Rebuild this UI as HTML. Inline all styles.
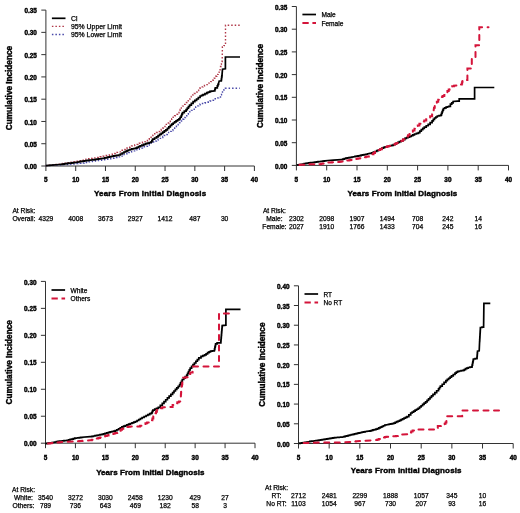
<!DOCTYPE html>
<html><head><meta charset="utf-8"><style>
html,body{margin:0;padding:0;background:#fff;width:520px;height:513px;overflow:hidden}
svg{display:block;will-change:transform}
</style></head><body>
<svg width="520" height="513" viewBox="0 0 520 513" font-family='"Liberation Sans", sans-serif' fill="#000">
<style>text{stroke:#000;stroke-width:0.25px;paint-order:stroke} text[font-weight=bold]{stroke-width:0.4px}</style>
<rect width="520" height="513" fill="#fff"/>
<line x1="45.9" y1="166.0" x2="45.9" y2="10.1" stroke="#333" stroke-width="1"/>
<line x1="41.3" y1="166.00" x2="45.9" y2="166.00" stroke="#333" stroke-width="1"/>
<text x="36.90" y="169.10" text-anchor="end" font-weight="bold" font-size="6.4">0.00</text>
<line x1="41.3" y1="143.73" x2="45.9" y2="143.73" stroke="#333" stroke-width="1"/>
<text x="36.90" y="146.83" text-anchor="end" font-weight="bold" font-size="6.4">0.05</text>
<line x1="41.3" y1="121.46" x2="45.9" y2="121.46" stroke="#333" stroke-width="1"/>
<text x="36.90" y="124.56" text-anchor="end" font-weight="bold" font-size="6.4">0.10</text>
<line x1="41.3" y1="99.19" x2="45.9" y2="99.19" stroke="#333" stroke-width="1"/>
<text x="36.90" y="102.29" text-anchor="end" font-weight="bold" font-size="6.4">0.15</text>
<line x1="41.3" y1="76.91" x2="45.9" y2="76.91" stroke="#333" stroke-width="1"/>
<text x="36.90" y="80.01" text-anchor="end" font-weight="bold" font-size="6.4">0.20</text>
<line x1="41.3" y1="54.64" x2="45.9" y2="54.64" stroke="#333" stroke-width="1"/>
<text x="36.90" y="57.74" text-anchor="end" font-weight="bold" font-size="6.4">0.25</text>
<line x1="41.3" y1="32.37" x2="45.9" y2="32.37" stroke="#333" stroke-width="1"/>
<text x="36.90" y="35.47" text-anchor="end" font-weight="bold" font-size="6.4">0.30</text>
<line x1="41.3" y1="10.10" x2="45.9" y2="10.10" stroke="#333" stroke-width="1"/>
<text x="36.90" y="13.20" text-anchor="end" font-weight="bold" font-size="6.4">0.35</text>
<line x1="45.9" y1="166.0" x2="254.4" y2="166.0" stroke="#333" stroke-width="1"/>
<line x1="45.90" y1="166.0" x2="45.90" y2="171.0" stroke="#333" stroke-width="1"/>
<text x="45.90" y="182.10" text-anchor="middle" font-weight="bold" font-size="6.4">5</text>
<line x1="75.69" y1="166.0" x2="75.69" y2="171.0" stroke="#333" stroke-width="1"/>
<text x="75.69" y="182.10" text-anchor="middle" font-weight="bold" font-size="6.4">10</text>
<line x1="105.47" y1="166.0" x2="105.47" y2="171.0" stroke="#333" stroke-width="1"/>
<text x="105.47" y="182.10" text-anchor="middle" font-weight="bold" font-size="6.4">15</text>
<line x1="135.26" y1="166.0" x2="135.26" y2="171.0" stroke="#333" stroke-width="1"/>
<text x="135.26" y="182.10" text-anchor="middle" font-weight="bold" font-size="6.4">20</text>
<line x1="165.04" y1="166.0" x2="165.04" y2="171.0" stroke="#333" stroke-width="1"/>
<text x="165.04" y="182.10" text-anchor="middle" font-weight="bold" font-size="6.4">25</text>
<line x1="194.83" y1="166.0" x2="194.83" y2="171.0" stroke="#333" stroke-width="1"/>
<text x="194.83" y="182.10" text-anchor="middle" font-weight="bold" font-size="6.4">30</text>
<line x1="224.61" y1="166.0" x2="224.61" y2="171.0" stroke="#333" stroke-width="1"/>
<text x="224.61" y="182.10" text-anchor="middle" font-weight="bold" font-size="6.4">35</text>
<line x1="254.40" y1="166.0" x2="254.40" y2="171.0" stroke="#333" stroke-width="1"/>
<text x="254.40" y="182.10" text-anchor="middle" font-weight="bold" font-size="6.4">40</text>
<text x="150.19" y="196.00" text-anchor="middle" font-weight="bold" font-size="8.0" letter-spacing="0.19">Years From Initial Diagnosis</text>
<text transform="translate(12.30,88.05) rotate(-90)" text-anchor="middle" font-weight="bold" font-size="8.2">Cumulative Incidence</text>
<line x1="296.4" y1="165.4" x2="296.4" y2="6.5" stroke="#333" stroke-width="1"/>
<line x1="291.79999999999995" y1="165.40" x2="296.4" y2="165.40" stroke="#333" stroke-width="1"/>
<text x="287.40" y="168.50" text-anchor="end" font-weight="bold" font-size="6.4">0.00</text>
<line x1="291.79999999999995" y1="142.70" x2="296.4" y2="142.70" stroke="#333" stroke-width="1"/>
<text x="287.40" y="145.80" text-anchor="end" font-weight="bold" font-size="6.4">0.05</text>
<line x1="291.79999999999995" y1="120.00" x2="296.4" y2="120.00" stroke="#333" stroke-width="1"/>
<text x="287.40" y="123.10" text-anchor="end" font-weight="bold" font-size="6.4">0.10</text>
<line x1="291.79999999999995" y1="97.30" x2="296.4" y2="97.30" stroke="#333" stroke-width="1"/>
<text x="287.40" y="100.40" text-anchor="end" font-weight="bold" font-size="6.4">0.15</text>
<line x1="291.79999999999995" y1="74.60" x2="296.4" y2="74.60" stroke="#333" stroke-width="1"/>
<text x="287.40" y="77.70" text-anchor="end" font-weight="bold" font-size="6.4">0.20</text>
<line x1="291.79999999999995" y1="51.90" x2="296.4" y2="51.90" stroke="#333" stroke-width="1"/>
<text x="287.40" y="55.00" text-anchor="end" font-weight="bold" font-size="6.4">0.25</text>
<line x1="291.79999999999995" y1="29.20" x2="296.4" y2="29.20" stroke="#333" stroke-width="1"/>
<text x="287.40" y="32.30" text-anchor="end" font-weight="bold" font-size="6.4">0.30</text>
<line x1="291.79999999999995" y1="6.50" x2="296.4" y2="6.50" stroke="#333" stroke-width="1"/>
<text x="287.40" y="9.60" text-anchor="end" font-weight="bold" font-size="6.4">0.35</text>
<line x1="296.4" y1="165.4" x2="508.5" y2="165.4" stroke="#333" stroke-width="1"/>
<line x1="296.40" y1="165.4" x2="296.40" y2="170.4" stroke="#333" stroke-width="1"/>
<text x="296.40" y="181.50" text-anchor="middle" font-weight="bold" font-size="6.4">5</text>
<line x1="326.70" y1="165.4" x2="326.70" y2="170.4" stroke="#333" stroke-width="1"/>
<text x="326.70" y="181.50" text-anchor="middle" font-weight="bold" font-size="6.4">10</text>
<line x1="357.00" y1="165.4" x2="357.00" y2="170.4" stroke="#333" stroke-width="1"/>
<text x="357.00" y="181.50" text-anchor="middle" font-weight="bold" font-size="6.4">15</text>
<line x1="387.30" y1="165.4" x2="387.30" y2="170.4" stroke="#333" stroke-width="1"/>
<text x="387.30" y="181.50" text-anchor="middle" font-weight="bold" font-size="6.4">20</text>
<line x1="417.60" y1="165.4" x2="417.60" y2="170.4" stroke="#333" stroke-width="1"/>
<text x="417.60" y="181.50" text-anchor="middle" font-weight="bold" font-size="6.4">25</text>
<line x1="447.90" y1="165.4" x2="447.90" y2="170.4" stroke="#333" stroke-width="1"/>
<text x="447.90" y="181.50" text-anchor="middle" font-weight="bold" font-size="6.4">30</text>
<line x1="478.20" y1="165.4" x2="478.20" y2="170.4" stroke="#333" stroke-width="1"/>
<text x="478.20" y="181.50" text-anchor="middle" font-weight="bold" font-size="6.4">35</text>
<line x1="508.50" y1="165.4" x2="508.50" y2="170.4" stroke="#333" stroke-width="1"/>
<text x="508.50" y="181.50" text-anchor="middle" font-weight="bold" font-size="6.4">40</text>
<text x="402.50" y="195.80" text-anchor="middle" font-weight="bold" font-size="8.0" letter-spacing="0.096">Years From Initial Diagnosis</text>
<text transform="translate(262.80,85.95) rotate(-90)" text-anchor="middle" font-weight="bold" font-size="8.2">Cumulative Incidence</text>
<line x1="45.5" y1="443.2" x2="45.5" y2="281.4" stroke="#333" stroke-width="1"/>
<line x1="40.9" y1="443.20" x2="45.5" y2="443.20" stroke="#333" stroke-width="1"/>
<text x="36.50" y="446.30" text-anchor="end" font-weight="bold" font-size="6.4">0.00</text>
<line x1="40.9" y1="416.23" x2="45.5" y2="416.23" stroke="#333" stroke-width="1"/>
<text x="36.50" y="419.33" text-anchor="end" font-weight="bold" font-size="6.4">0.05</text>
<line x1="40.9" y1="389.27" x2="45.5" y2="389.27" stroke="#333" stroke-width="1"/>
<text x="36.50" y="392.37" text-anchor="end" font-weight="bold" font-size="6.4">0.10</text>
<line x1="40.9" y1="362.30" x2="45.5" y2="362.30" stroke="#333" stroke-width="1"/>
<text x="36.50" y="365.40" text-anchor="end" font-weight="bold" font-size="6.4">0.15</text>
<line x1="40.9" y1="335.33" x2="45.5" y2="335.33" stroke="#333" stroke-width="1"/>
<text x="36.50" y="338.43" text-anchor="end" font-weight="bold" font-size="6.4">0.20</text>
<line x1="40.9" y1="308.37" x2="45.5" y2="308.37" stroke="#333" stroke-width="1"/>
<text x="36.50" y="311.47" text-anchor="end" font-weight="bold" font-size="6.4">0.25</text>
<line x1="40.9" y1="281.40" x2="45.5" y2="281.40" stroke="#333" stroke-width="1"/>
<text x="36.50" y="284.50" text-anchor="end" font-weight="bold" font-size="6.4">0.30</text>
<line x1="45.5" y1="443.2" x2="255.0" y2="443.2" stroke="#333" stroke-width="1"/>
<line x1="45.50" y1="443.2" x2="45.50" y2="448.2" stroke="#333" stroke-width="1"/>
<text x="45.50" y="460.10" text-anchor="middle" font-weight="bold" font-size="6.4">5</text>
<line x1="75.43" y1="443.2" x2="75.43" y2="448.2" stroke="#333" stroke-width="1"/>
<text x="75.43" y="460.10" text-anchor="middle" font-weight="bold" font-size="6.4">10</text>
<line x1="105.36" y1="443.2" x2="105.36" y2="448.2" stroke="#333" stroke-width="1"/>
<text x="105.36" y="460.10" text-anchor="middle" font-weight="bold" font-size="6.4">15</text>
<line x1="135.29" y1="443.2" x2="135.29" y2="448.2" stroke="#333" stroke-width="1"/>
<text x="135.29" y="460.10" text-anchor="middle" font-weight="bold" font-size="6.4">20</text>
<line x1="165.21" y1="443.2" x2="165.21" y2="448.2" stroke="#333" stroke-width="1"/>
<text x="165.21" y="460.10" text-anchor="middle" font-weight="bold" font-size="6.4">25</text>
<line x1="195.14" y1="443.2" x2="195.14" y2="448.2" stroke="#333" stroke-width="1"/>
<text x="195.14" y="460.10" text-anchor="middle" font-weight="bold" font-size="6.4">30</text>
<line x1="225.07" y1="443.2" x2="225.07" y2="448.2" stroke="#333" stroke-width="1"/>
<text x="225.07" y="460.10" text-anchor="middle" font-weight="bold" font-size="6.4">35</text>
<line x1="255.00" y1="443.2" x2="255.00" y2="448.2" stroke="#333" stroke-width="1"/>
<text x="255.00" y="460.10" text-anchor="middle" font-weight="bold" font-size="6.4">40</text>
<text x="150.32" y="474.60" text-anchor="middle" font-weight="bold" font-size="8.0" letter-spacing="0.04">Years From Initial Diagnosis</text>
<text transform="translate(11.90,362.30) rotate(-90)" text-anchor="middle" font-weight="bold" font-size="8.2">Cumulative Incidence</text>
<line x1="298.5" y1="443.5" x2="298.5" y2="285.8" stroke="#333" stroke-width="1"/>
<line x1="293.9" y1="443.50" x2="298.5" y2="443.50" stroke="#333" stroke-width="1"/>
<text x="289.50" y="446.60" text-anchor="end" font-weight="bold" font-size="6.4">0.00</text>
<line x1="293.9" y1="423.79" x2="298.5" y2="423.79" stroke="#333" stroke-width="1"/>
<text x="289.50" y="426.89" text-anchor="end" font-weight="bold" font-size="6.4">0.05</text>
<line x1="293.9" y1="404.07" x2="298.5" y2="404.07" stroke="#333" stroke-width="1"/>
<text x="289.50" y="407.18" text-anchor="end" font-weight="bold" font-size="6.4">0.10</text>
<line x1="293.9" y1="384.36" x2="298.5" y2="384.36" stroke="#333" stroke-width="1"/>
<text x="289.50" y="387.46" text-anchor="end" font-weight="bold" font-size="6.4">0.15</text>
<line x1="293.9" y1="364.65" x2="298.5" y2="364.65" stroke="#333" stroke-width="1"/>
<text x="289.50" y="367.75" text-anchor="end" font-weight="bold" font-size="6.4">0.20</text>
<line x1="293.9" y1="344.94" x2="298.5" y2="344.94" stroke="#333" stroke-width="1"/>
<text x="289.50" y="348.04" text-anchor="end" font-weight="bold" font-size="6.4">0.25</text>
<line x1="293.9" y1="325.23" x2="298.5" y2="325.23" stroke="#333" stroke-width="1"/>
<text x="289.50" y="328.33" text-anchor="end" font-weight="bold" font-size="6.4">0.30</text>
<line x1="293.9" y1="305.51" x2="298.5" y2="305.51" stroke="#333" stroke-width="1"/>
<text x="289.50" y="308.61" text-anchor="end" font-weight="bold" font-size="6.4">0.35</text>
<line x1="293.9" y1="285.80" x2="298.5" y2="285.80" stroke="#333" stroke-width="1"/>
<text x="289.50" y="288.90" text-anchor="end" font-weight="bold" font-size="6.4">0.40</text>
<line x1="298.5" y1="443.5" x2="513.2" y2="443.5" stroke="#333" stroke-width="1"/>
<line x1="298.50" y1="443.5" x2="298.50" y2="448.5" stroke="#333" stroke-width="1"/>
<text x="298.50" y="459.60" text-anchor="middle" font-weight="bold" font-size="6.4">5</text>
<line x1="329.17" y1="443.5" x2="329.17" y2="448.5" stroke="#333" stroke-width="1"/>
<text x="329.17" y="459.60" text-anchor="middle" font-weight="bold" font-size="6.4">10</text>
<line x1="359.84" y1="443.5" x2="359.84" y2="448.5" stroke="#333" stroke-width="1"/>
<text x="359.84" y="459.60" text-anchor="middle" font-weight="bold" font-size="6.4">15</text>
<line x1="390.51" y1="443.5" x2="390.51" y2="448.5" stroke="#333" stroke-width="1"/>
<text x="390.51" y="459.60" text-anchor="middle" font-weight="bold" font-size="6.4">20</text>
<line x1="421.19" y1="443.5" x2="421.19" y2="448.5" stroke="#333" stroke-width="1"/>
<text x="421.19" y="459.60" text-anchor="middle" font-weight="bold" font-size="6.4">25</text>
<line x1="451.86" y1="443.5" x2="451.86" y2="448.5" stroke="#333" stroke-width="1"/>
<text x="451.86" y="459.60" text-anchor="middle" font-weight="bold" font-size="6.4">30</text>
<line x1="482.53" y1="443.5" x2="482.53" y2="448.5" stroke="#333" stroke-width="1"/>
<text x="482.53" y="459.60" text-anchor="middle" font-weight="bold" font-size="6.4">35</text>
<line x1="513.20" y1="443.5" x2="513.20" y2="448.5" stroke="#333" stroke-width="1"/>
<text x="513.20" y="459.60" text-anchor="middle" font-weight="bold" font-size="6.4">40</text>
<text x="406.17" y="473.00" text-anchor="middle" font-weight="bold" font-size="8.0" letter-spacing="0.14">Years From Initial Diagnosis</text>
<text transform="translate(264.90,364.65) rotate(-90)" text-anchor="middle" font-weight="bold" font-size="8.2">Cumulative Incidence</text>
<path d="M45.80,165.60 L47.50,165.60 L47.50,165.42 L49.20,165.42 L49.20,165.25 L50.90,165.25 L50.90,165.07 L52.60,165.07 L52.60,164.90 L54.30,164.90 L54.30,164.72 L56.00,164.72 L56.00,164.55 L57.70,164.55 L57.70,164.38 L59.40,164.38 L59.40,164.20 L60.94,164.20 L60.94,163.88 L62.48,163.88 L62.48,163.56 L64.02,163.56 L64.02,163.24 L65.56,163.24 L65.56,162.92 L67.10,162.92 L67.10,162.60 L68.64,162.60 L68.64,162.38 L70.18,162.38 L70.18,162.16 L71.72,162.16 L71.72,161.94 L73.26,161.94 L73.26,161.72 L74.80,161.72 L74.80,161.50 L76.34,161.50 L76.34,161.26 L77.88,161.26 L77.88,161.02 L79.42,161.02 L79.42,160.78 L80.96,160.78 L80.96,160.54 L82.50,160.54 L82.50,160.30 L84.23,160.30 L84.23,159.80 L85.97,159.80 L85.97,159.30 L87.70,159.30 L87.70,158.80 L89.24,158.80 L89.24,158.58 L90.78,158.58 L90.78,158.36 L92.32,158.36 L92.32,158.14 L93.86,158.14 L93.86,157.92 L95.40,157.92 L95.40,157.70 L96.94,157.70 L96.94,157.40 L98.48,157.40 L98.48,157.10 L100.02,157.10 L100.02,156.80 L101.56,156.80 L101.56,156.50 L103.10,156.50 L103.10,156.20 L104.64,156.20 L104.64,155.86 L106.18,155.86 L106.18,155.52 L107.72,155.52 L107.72,155.18 L109.26,155.18 L109.26,154.84 L110.80,154.84 L110.80,154.50 L112.34,154.50 L112.34,153.98 L113.88,153.98 L113.88,153.46 L115.42,153.46 L115.42,152.94 L116.96,152.94 L116.96,152.42 L118.50,152.42 L118.50,151.90 L120.33,151.90 L120.33,151.10 L122.17,151.10 L122.17,150.30 L124.00,150.30 L124.00,149.50 L125.50,149.50 L125.50,148.78 L127.00,148.78 L127.00,148.05 L128.50,148.05 L128.50,147.32 L130.00,147.32 L130.00,146.60 L131.56,146.60 L131.56,146.04 L133.12,146.04 L133.12,145.48 L134.68,145.48 L134.68,144.92 L136.24,144.92 L136.24,144.36 L137.80,144.36 L137.80,143.80 L139.36,143.80 L139.36,143.26 L140.92,143.26 L140.92,142.72 L142.48,142.72 L142.48,142.18 L144.04,142.18 L144.04,141.64 L145.60,141.64 L145.60,141.10 L147.43,141.10 L147.43,139.53 L149.27,139.53 L149.27,137.97 L151.10,137.97 L151.10,136.40 L152.90,136.40 L152.90,135.10 L154.70,135.10 L154.70,133.80 L156.50,133.80 L156.50,132.50 L158.07,132.50 L158.07,131.47 L159.63,131.47 L159.63,130.43 L161.20,130.43 L161.20,129.40 L163.10,129.40 L163.10,127.60 L165.00,127.60 L165.00,125.80 L166.32,125.80 L166.32,124.38 L167.65,124.38 L167.65,122.95 L168.98,122.95 L168.98,121.52 L170.30,121.52 L170.30,120.10 L171.73,120.10 L171.73,118.63 L173.17,118.63 L173.17,117.17 L174.60,117.17 L174.60,115.70 L176.07,115.70 L176.07,114.23 L177.53,114.23 L177.53,112.77 L179.00,112.77 L179.00,111.30 L180.17,111.30 L180.17,109.57 L181.33,109.57 L181.33,107.83 L182.50,107.83 L182.50,106.10 L183.97,106.10 L183.97,104.33 L185.43,104.33 L185.43,102.57 L186.90,102.57 L186.90,100.80 L188.37,100.80 L188.37,99.33 L189.83,99.33 L189.83,97.87 L191.30,97.87 L191.30,96.40 L192.77,96.40 L192.77,94.93 L194.23,94.93 L194.23,93.47 L195.70,93.47 L195.70,92.00 L197.17,92.00 L197.17,90.53 L198.63,90.53 L198.63,89.07 L200.10,89.07 L200.10,87.60 L201.55,87.60 L201.55,86.85 L203.00,86.85 L203.00,86.10 L204.45,86.10 L204.45,85.35 L205.90,85.35 L205.90,84.60 L207.35,84.60 L207.35,83.85 L208.80,83.85 L208.80,83.10 L210.75,83.10 L210.75,81.65 L212.70,81.65 L212.70,80.20 L214.20,80.20 L214.20,78.25 L215.70,78.25 L215.70,76.30 L216.90,76.30 L216.90,74.35 L218.10,74.35 L218.10,72.40 L219.10,72.40 L219.10,70.45 L220.10,70.45 L220.10,68.50 L220.55,68.50 L220.55,66.55 L221.00,66.55 L221.00,64.60 L221.40,64.60 L221.40,63.07 L221.80,63.07 L221.80,61.53 L222.20,61.53 L222.20,60.00 L222.40,47.00 L223.95,47.00 L223.95,45.60 L225.50,45.60 L225.50,44.20 L225.50,25.30 L239.80,25.30" stroke="#b03848" stroke-width="1.4" fill="none" stroke-dasharray="1.5,2.0"/>
<path d="M45.80,165.60 L59.40,165.00 L67.10,164.50 L68.64,164.50 L68.64,164.36 L70.18,164.36 L70.18,164.22 L71.72,164.22 L71.72,164.08 L73.26,164.08 L73.26,163.94 L74.80,163.94 L74.80,163.80 L76.34,163.80 L76.34,163.64 L77.88,163.64 L77.88,163.48 L79.42,163.48 L79.42,163.32 L80.96,163.32 L80.96,163.16 L82.50,163.16 L82.50,163.00 L84.11,163.00 L84.11,162.72 L85.72,162.72 L85.72,162.45 L87.34,162.45 L87.34,162.18 L88.95,162.18 L88.95,161.90 L90.56,161.90 L90.56,161.62 L92.18,161.62 L92.18,161.35 L93.79,161.35 L93.79,161.08 L95.40,161.08 L95.40,160.80 L96.94,160.80 L96.94,160.60 L98.48,160.60 L98.48,160.40 L100.02,160.40 L100.02,160.20 L101.56,160.20 L101.56,160.00 L103.10,160.00 L103.10,159.80 L104.64,159.80 L104.64,159.54 L106.18,159.54 L106.18,159.28 L107.72,159.28 L107.72,159.02 L109.26,159.02 L109.26,158.76 L110.80,158.76 L110.80,158.50 L112.34,158.50 L112.34,158.18 L113.88,158.18 L113.88,157.86 L115.42,157.86 L115.42,157.54 L116.96,157.54 L116.96,157.22 L118.50,157.22 L118.50,156.90 L120.33,156.90 L120.33,156.10 L122.17,156.10 L122.17,155.30 L124.00,155.30 L124.00,154.50 L125.50,154.50 L125.50,153.88 L127.00,153.88 L127.00,153.25 L128.50,153.25 L128.50,152.62 L130.00,152.62 L130.00,152.00 L131.56,152.00 L131.56,151.46 L133.12,151.46 L133.12,150.92 L134.68,150.92 L134.68,150.38 L136.24,150.38 L136.24,149.84 L137.80,149.84 L137.80,149.30 L139.36,149.30 L139.36,148.68 L140.92,148.68 L140.92,148.06 L142.48,148.06 L142.48,147.44 L144.04,147.44 L144.04,146.82 L145.60,146.82 L145.60,146.20 L147.43,146.20 L147.43,145.17 L149.27,145.17 L149.27,144.13 L151.10,144.13 L151.10,143.10 L152.90,143.10 L152.90,142.07 L154.70,142.07 L154.70,141.03 L156.50,141.03 L156.50,140.00 L158.07,140.00 L158.07,139.20 L159.63,139.20 L159.63,138.40 L161.20,138.40 L161.20,137.60 L162.77,137.60 L162.77,136.57 L164.33,136.57 L164.33,135.53 L165.90,135.53 L165.90,134.50 L167.27,134.50 L167.27,133.47 L168.63,133.47 L168.63,132.43 L170.00,132.43 L170.00,131.40 L171.45,131.40 L171.45,130.55 L172.90,130.55 L172.90,129.70 L174.67,129.70 L174.67,127.97 L176.43,127.97 L176.43,126.23 L178.20,126.23 L178.20,124.50 L179.63,124.50 L179.63,122.73 L181.07,122.73 L181.07,120.97 L182.50,120.97 L182.50,119.20 L183.97,119.20 L183.97,117.47 L185.43,117.47 L185.43,115.73 L186.90,115.73 L186.90,114.00 L188.37,114.00 L188.37,112.80 L189.83,112.80 L189.83,111.60 L191.30,111.60 L191.30,110.40 L192.77,110.40 L192.77,109.23 L194.23,109.23 L194.23,108.07 L195.70,108.07 L195.70,106.90 L197.17,106.90 L197.17,105.90 L198.63,105.90 L198.63,104.90 L200.10,104.90 L200.10,103.90 L201.73,103.90 L201.73,103.53 L203.37,103.53 L203.37,103.17 L205.00,103.17 L205.00,102.80 L206.67,102.80 L206.67,102.20 L208.33,102.20 L208.33,101.60 L210.00,101.60 L210.00,101.00 L211.73,101.00 L211.73,100.23 L213.47,100.23 L213.47,99.47 L215.20,99.47 L215.20,98.70 L216.90,98.70 L216.90,97.85 L218.60,97.85 L218.60,97.00 L220.50,97.00 L220.50,94.80 L221.50,94.80 L221.50,92.90 L222.50,92.90 L222.50,91.00 L223.95,91.00 L223.95,89.65 L225.40,89.65 L225.40,88.30 L239.80,88.30" stroke="#4848a8" stroke-width="1.4" fill="none" stroke-dasharray="1.5,2.0"/>
<path d="M45.80,165.60 L51.70,165.10 L59.40,164.50 L60.94,164.50 L60.94,164.28 L62.48,164.28 L62.48,164.06 L64.02,164.06 L64.02,163.84 L65.56,163.84 L65.56,163.62 L67.10,163.62 L67.10,163.40 L68.64,163.40 L68.64,163.22 L70.18,163.22 L70.18,163.04 L71.72,163.04 L71.72,162.86 L73.26,162.86 L73.26,162.68 L74.80,162.68 L74.80,162.50 L76.34,162.50 L76.34,162.24 L77.88,162.24 L77.88,161.98 L79.42,161.98 L79.42,161.72 L80.96,161.72 L80.96,161.46 L82.50,161.46 L82.50,161.20 L84.23,161.20 L84.23,160.93 L85.97,160.93 L85.97,160.67 L87.70,160.67 L87.70,160.40 L89.24,160.40 L89.24,160.20 L90.78,160.20 L90.78,160.00 L92.32,160.00 L92.32,159.80 L93.86,159.80 L93.86,159.60 L95.40,159.60 L95.40,159.40 L96.94,159.40 L96.94,159.18 L98.48,159.18 L98.48,158.96 L100.02,158.96 L100.02,158.74 L101.56,158.74 L101.56,158.52 L103.10,158.52 L103.10,158.30 L104.64,158.30 L104.64,157.94 L106.18,157.94 L106.18,157.58 L107.72,157.58 L107.72,157.22 L109.26,157.22 L109.26,156.86 L110.80,156.86 L110.80,156.50 L112.34,156.50 L112.34,156.20 L113.88,156.20 L113.88,155.90 L115.42,155.90 L115.42,155.60 L116.96,155.60 L116.96,155.30 L118.50,155.30 L118.50,155.00 L120.33,155.00 L120.33,154.00 L122.17,154.00 L122.17,153.00 L124.00,153.00 L124.00,152.00 L125.50,152.00 L125.50,151.32 L127.00,151.32 L127.00,150.65 L128.50,150.65 L128.50,149.98 L130.00,149.98 L130.00,149.30 L131.83,149.30 L131.83,148.90 L133.67,148.90 L133.67,148.50 L135.50,148.50 L135.50,148.10 L137.03,148.10 L137.03,147.33 L138.57,147.33 L138.57,146.57 L140.10,146.57 L140.10,145.80 L141.93,145.80 L141.93,145.10 L143.77,145.10 L143.77,144.40 L145.60,144.40 L145.60,143.70 L147.43,143.70 L147.43,143.10 L149.27,143.10 L149.27,142.50 L151.10,142.50 L151.10,141.90 L151.85,141.90 L151.85,140.55 L152.60,140.55 L152.60,139.20 L154.55,139.20 L154.55,138.00 L156.50,138.00 L156.50,136.80 L158.07,136.80 L158.07,135.63 L159.63,135.63 L159.63,134.47 L161.20,134.47 L161.20,133.30 L162.77,133.30 L162.77,132.13 L164.33,132.13 L164.33,130.97 L165.90,130.97 L165.90,129.80 L167.37,129.80 L167.37,128.33 L168.83,128.33 L168.83,126.87 L170.30,126.87 L170.30,125.40 L171.73,125.40 L171.73,124.20 L173.17,124.20 L173.17,123.00 L174.60,123.00 L174.60,121.80 L176.07,121.80 L176.07,120.80 L177.53,120.80 L177.53,119.80 L179.00,119.80 L179.00,118.80 L180.10,118.80 L180.10,117.25 L181.20,117.25 L181.20,115.70 L181.85,115.70 L181.85,114.15 L182.50,114.15 L182.50,112.60 L184.30,112.60 L184.30,111.10 L186.10,111.10 L186.10,109.60 L187.27,109.60 L187.27,108.13 L188.43,108.13 L188.43,106.67 L189.60,106.67 L189.60,105.20 L191.35,105.20 L191.35,103.45 L193.10,103.45 L193.10,101.70 L194.85,101.70 L194.85,100.35 L196.60,100.35 L196.60,99.00 L198.35,99.00 L198.35,97.50 L200.10,97.50 L200.10,96.00 L201.55,96.00 L201.55,95.30 L203.00,95.30 L203.00,94.60 L204.95,94.60 L204.95,93.65 L206.90,93.65 L206.90,92.70 L208.35,92.70 L208.35,92.05 L209.80,92.05 L209.80,91.40 L211.30,91.40 L211.30,91.20 L212.80,91.20 L212.80,91.00 L214.30,91.00 L214.30,90.80 L214.80,90.80 L214.80,89.30 L215.30,89.30 L215.30,87.80 L217.30,87.80 L217.30,85.80 L217.95,85.80 L217.95,84.40 L218.60,84.40 L218.60,83.00 L219.20,81.00 L221.20,81.00 L221.20,80.30 L221.42,80.30 L221.42,78.75 L221.65,78.75 L221.65,77.20 L221.88,77.20 L221.88,75.65 L222.10,75.65 L222.10,74.10 L222.50,69.20 L225.40,68.80 L225.40,57.00 L240.00,57.00" stroke="#000" stroke-width="1.7" fill="none" stroke-linejoin="miter"/>
<path d="M296.50,165.00 L298.04,165.00 L298.04,164.74 L299.59,164.74 L299.59,164.49 L301.13,164.49 L301.13,164.23 L302.68,164.23 L302.68,163.98 L304.22,163.98 L304.22,163.72 L305.77,163.72 L305.77,163.47 L307.31,163.47 L307.31,163.21 L308.86,163.21 L308.86,162.96 L310.40,162.96 L310.40,162.70 L311.94,162.70 L311.94,162.50 L313.48,162.50 L313.48,162.30 L315.02,162.30 L315.02,162.10 L316.56,162.10 L316.56,161.90 L318.10,161.90 L318.10,161.70 L319.64,161.70 L319.64,161.50 L321.18,161.50 L321.18,161.30 L322.72,161.30 L322.72,161.10 L324.26,161.10 L324.26,160.90 L325.80,160.90 L325.80,160.70 L333.50,160.10 L341.20,159.60 L342.73,159.60 L342.73,159.10 L344.27,159.10 L344.27,158.60 L345.80,158.60 L345.80,158.10 L347.33,158.10 L347.33,157.83 L348.86,157.83 L348.86,157.56 L350.39,157.56 L350.39,157.29 L351.91,157.29 L351.91,157.01 L353.44,157.01 L353.44,156.74 L354.97,156.74 L354.97,156.47 L356.50,156.47 L356.50,156.20 L358.04,156.20 L358.04,155.87 L359.59,155.87 L359.59,155.54 L361.13,155.54 L361.13,155.21 L362.67,155.21 L362.67,154.89 L364.21,154.89 L364.21,154.56 L365.76,154.56 L365.76,154.23 L367.30,154.23 L367.30,153.90 L370.00,153.40 L371.67,153.40 L371.67,152.77 L373.33,152.77 L373.33,152.13 L375.00,152.13 L375.00,151.50 L376.72,151.50 L376.72,150.66 L378.44,150.66 L378.44,149.82 L380.16,149.82 L380.16,148.98 L381.88,148.98 L381.88,148.14 L383.60,148.14 L383.60,147.30 L385.24,147.30 L385.24,146.90 L386.88,146.90 L386.88,146.50 L388.52,146.50 L388.52,146.10 L390.16,146.10 L390.16,145.70 L391.80,145.70 L391.80,145.30 L393.32,145.30 L393.32,144.57 L394.83,144.57 L394.83,143.83 L396.35,143.83 L396.35,143.10 L397.87,143.10 L397.87,142.37 L399.38,142.37 L399.38,141.63 L400.90,141.63 L400.90,140.90 L402.85,140.90 L402.85,139.65 L404.80,139.65 L404.80,138.40 L406.40,138.40 L406.40,137.77 L408.00,137.77 L408.00,137.13 L409.60,137.13 L409.60,136.50 L411.23,136.50 L411.23,135.67 L412.87,135.67 L412.87,134.83 L414.50,134.83 L414.50,134.00 L416.45,134.00 L416.45,133.30 L418.40,133.30 L418.40,132.60 L419.85,132.60 L419.85,131.10 L421.30,131.10 L421.30,129.60 L422.80,129.60 L422.80,128.40 L424.30,128.40 L424.30,127.20 L426.25,127.20 L426.25,125.75 L428.20,125.75 L428.20,124.30 L430.15,124.30 L430.15,122.55 L432.10,122.55 L432.10,120.80 L433.30,120.80 L433.30,119.40 L434.50,119.40 L434.50,118.00 L435.90,118.00 L435.90,117.00 L437.30,117.00 L437.30,116.00 L439.05,116.00 L439.05,115.55 L440.80,115.55 L440.80,115.10 L441.45,115.10 L441.45,113.35 L442.10,113.35 L442.10,111.60 L442.75,111.60 L442.75,110.05 L443.40,110.05 L443.40,108.50 L444.75,108.50 L444.75,107.85 L446.10,107.85 L446.10,107.20 L447.40,107.20 L447.40,106.75 L448.70,106.75 L448.70,106.30 L450.40,106.30 L450.40,104.10 L451.75,104.10 L451.75,102.80 L453.10,102.80 L453.10,101.50 L457.50,101.10 L459.20,101.10 L459.20,98.90 L474.60,98.90 L474.60,87.50 L494.30,87.50" stroke="#000" stroke-width="1.7" fill="none" stroke-linejoin="miter"/>
<path d="M296.50,165.00 L298.04,165.00 L298.04,164.91 L299.59,164.91 L299.59,164.82 L301.13,164.82 L301.13,164.73 L302.68,164.73 L302.68,164.64 L304.22,164.64 L304.22,164.56 L305.77,164.56 L305.77,164.47 L307.31,164.47 L307.31,164.38 L308.86,164.38 L308.86,164.29 L310.40,164.29 L310.40,164.20 L318.00,164.50 L319.56,164.50 L319.56,164.14 L321.12,164.14 L321.12,163.78 L322.68,163.78 L322.68,163.42 L324.24,163.42 L324.24,163.06 L325.80,163.06 L325.80,162.70 L327.32,162.70 L327.32,162.60 L328.85,162.60 L328.85,162.50 L330.38,162.50 L330.38,162.40 L331.90,162.40 L331.90,162.30 L333.43,162.30 L333.43,162.20 L334.95,162.20 L334.95,162.10 L336.48,162.10 L336.48,162.00 L338.00,162.00 L338.00,161.90 L339.56,161.90 L339.56,161.66 L341.12,161.66 L341.12,161.42 L342.68,161.42 L342.68,161.18 L344.24,161.18 L344.24,160.94 L345.80,160.94 L345.80,160.70 L347.33,160.70 L347.33,160.43 L348.86,160.43 L348.86,160.16 L350.39,160.16 L350.39,159.89 L351.91,159.89 L351.91,159.61 L353.44,159.61 L353.44,159.34 L354.97,159.34 L354.97,159.07 L356.50,159.07 L356.50,158.80 L358.04,158.80 L358.04,158.47 L359.59,158.47 L359.59,158.14 L361.13,158.14 L361.13,157.81 L362.67,157.81 L362.67,157.49 L364.21,157.49 L364.21,157.16 L365.76,157.16 L365.76,156.83 L367.30,156.83 L367.30,156.50 L368.87,156.50 L368.87,155.73 L370.43,155.73 L370.43,154.97 L372.00,154.97 L372.00,154.20 L373.50,154.20 L373.50,153.05 L375.00,153.05 L375.00,151.90 L376.72,151.90 L376.72,150.98 L378.44,150.98 L378.44,150.06 L380.16,150.06 L380.16,149.14 L381.88,149.14 L381.88,148.22 L383.60,148.22 L383.60,147.30 L385.24,147.30 L385.24,146.90 L386.88,146.90 L386.88,146.50 L388.52,146.50 L388.52,146.10 L390.16,146.10 L390.16,145.70 L391.80,145.70 L391.80,145.30 L393.40,145.30 L393.40,144.55 L395.00,144.55 L395.00,143.80 L396.60,143.80 L396.60,143.05 L398.20,143.05 L398.20,142.30 L399.80,142.30 L399.80,141.55 L401.40,141.55 L401.40,140.80 L403.10,140.80 L403.10,139.35 L404.80,139.35 L404.80,137.90 L406.40,137.90 L406.40,136.60 L408.00,136.60 L408.00,135.30 L409.60,135.30 L409.60,134.00 L411.23,134.00 L411.23,132.23 L412.87,132.23 L412.87,130.47 L414.50,130.47 L414.50,128.70 L416.13,128.70 L416.13,127.07 L417.77,127.07 L417.77,125.43 L419.40,125.43 L419.40,123.80 L421.03,123.80 L421.03,122.67 L422.67,122.67 L422.67,121.53 L424.30,121.53 L424.30,120.40 L426.25,120.40 L426.25,119.15 L428.20,119.15 L428.20,117.90 L430.15,117.90 L430.15,116.20 L432.10,116.20 L432.10,114.50 L432.80,114.50 L432.80,113.05 L433.50,113.05 L433.50,111.60 L434.00,107.70 L434.75,107.70 L434.75,105.70 L435.50,105.70 L435.50,103.70 L436.85,103.70 L436.85,101.70 L438.20,101.70 L438.20,99.70 L439.50,99.70 L439.50,98.40 L440.80,98.40 L440.80,97.10 L442.55,97.10 L442.55,96.00 L444.30,96.00 L444.30,94.90 L445.20,94.90 L445.20,93.60 L446.10,93.60 L446.10,92.30 L447.40,92.30 L447.40,90.95 L448.70,90.95 L448.70,89.60 L449.55,89.60 L449.55,88.30 L450.40,88.30 L450.40,87.00 L452.20,87.00 L452.20,86.35 L454.00,86.35 L454.00,85.70 L458.40,85.50 L460.10,85.50 L460.10,84.50 L461.80,84.50 L461.80,83.50 L462.15,83.50 L462.15,81.75 L462.50,81.75 L462.50,80.00 L467.40,80.00 L467.40,68.40 L471.80,68.40 L471.80,57.50 L475.50,57.50 L475.50,45.20 L479.30,45.20 L479.30,27.20 L488.50,27.20" stroke="#d4143a" stroke-width="2" fill="none" stroke-dasharray="5.0,5.5" stroke-linecap="round" stroke-dashoffset="7.46"/>
<path d="M45.30,443.70 L46.97,443.70 L46.97,443.40 L48.65,443.40 L48.65,443.10 L50.33,443.10 L50.33,442.80 L52.00,442.80 L52.00,442.50 L53.48,442.50 L53.48,442.24 L54.96,442.24 L54.96,441.98 L56.44,441.98 L56.44,441.72 L57.92,441.72 L57.92,441.46 L59.40,441.46 L59.40,441.20 L60.94,441.20 L60.94,441.02 L62.48,441.02 L62.48,440.84 L64.02,440.84 L64.02,440.66 L65.56,440.66 L65.56,440.48 L67.10,440.48 L67.10,440.30 L68.64,440.30 L68.64,439.88 L70.18,439.88 L70.18,439.46 L71.72,439.46 L71.72,439.04 L73.26,439.04 L73.26,438.62 L74.80,438.62 L74.80,438.20 L76.34,438.20 L76.34,438.00 L77.88,438.00 L77.88,437.80 L79.42,437.80 L79.42,437.60 L80.96,437.60 L80.96,437.40 L82.50,437.40 L82.50,437.20 L90.20,436.60 L91.80,436.60 L91.80,436.30 L93.40,436.30 L93.40,436.00 L95.00,436.00 L95.00,435.70 L96.67,435.70 L96.67,435.35 L98.35,435.35 L98.35,435.00 L100.03,435.00 L100.03,434.65 L101.70,434.65 L101.70,434.30 L103.40,434.30 L103.40,433.80 L105.10,433.80 L105.10,433.30 L106.80,433.30 L106.80,432.80 L108.50,432.80 L108.50,432.30 L110.17,432.30 L110.17,431.90 L111.85,431.90 L111.85,431.50 L113.53,431.50 L113.53,431.10 L115.20,431.10 L115.20,430.70 L116.88,430.70 L116.88,429.75 L118.55,429.75 L118.55,428.80 L120.23,428.80 L120.23,427.85 L121.90,427.85 L121.90,426.90 L123.58,426.90 L123.58,426.22 L125.25,426.22 L125.25,425.55 L126.92,425.55 L126.92,424.88 L128.60,424.88 L128.60,424.20 L130.30,424.20 L130.30,423.52 L132.00,423.52 L132.00,422.85 L133.70,422.85 L133.70,422.18 L135.40,422.18 L135.40,421.50 L137.07,421.50 L137.07,420.50 L138.75,420.50 L138.75,419.50 L140.43,419.50 L140.43,418.50 L142.10,418.50 L142.10,417.50 L144.10,417.50 L144.10,416.50 L146.10,416.50 L146.10,415.50 L147.90,415.50 L147.90,414.60 L149.70,414.60 L149.70,413.70 L151.50,413.70 L151.50,412.80 L152.20,412.80 L152.20,411.45 L152.90,411.45 L152.90,410.10 L154.70,410.10 L154.70,409.20 L156.50,409.20 L156.50,408.30 L158.30,408.30 L158.30,407.40 L160.30,407.40 L160.30,405.40 L162.30,405.40 L162.30,403.40 L164.00,403.40 L164.00,401.57 L165.70,401.57 L165.70,399.73 L167.40,399.73 L167.40,397.90 L169.13,397.90 L169.13,396.13 L170.87,396.13 L170.87,394.37 L172.60,394.37 L172.60,392.60 L174.00,392.60 L174.00,391.02 L175.40,391.02 L175.40,389.44 L176.80,389.44 L176.80,387.86 L178.20,387.86 L178.20,386.28 L179.60,386.28 L179.60,384.70 L180.50,384.70 L180.50,382.97 L181.40,382.97 L181.40,381.23 L182.30,381.23 L182.30,379.50 L183.77,379.50 L183.77,378.03 L185.23,378.03 L185.23,376.57 L186.70,376.57 L186.70,375.10 L187.57,375.10 L187.57,373.35 L188.45,373.35 L188.45,371.60 L189.32,371.60 L189.32,369.85 L190.20,369.85 L190.20,368.10 L191.60,368.10 L191.60,366.40 L193.00,366.40 L193.00,364.70 L194.40,364.70 L194.40,363.00 L195.87,363.00 L195.87,361.27 L197.33,361.27 L197.33,359.53 L198.80,359.53 L198.80,357.80 L201.00,357.80 L201.00,356.40 L202.80,356.40 L202.80,355.65 L204.60,355.65 L204.60,354.90 L206.10,354.90 L206.10,353.80 L207.60,353.80 L207.60,352.70 L209.05,352.70 L209.05,351.95 L210.50,351.95 L210.50,351.20 L212.35,351.20 L212.35,350.85 L214.20,350.85 L214.20,350.50 L214.55,350.50 L214.55,348.85 L214.90,348.85 L214.90,347.20 L215.25,347.20 L215.25,345.55 L215.60,345.55 L215.60,343.90 L217.10,343.90 L217.10,342.90 L220.70,342.90 L220.84,342.90 L220.84,341.33 L220.97,341.33 L220.97,339.75 L221.11,339.75 L221.11,338.18 L221.25,338.18 L221.25,336.61 L221.38,336.61 L221.38,335.04 L221.52,335.04 L221.52,333.46 L221.65,333.46 L221.65,331.89 L221.79,331.89 L221.79,330.32 L221.93,330.32 L221.93,328.75 L222.06,328.75 L222.06,327.17 L222.20,327.17 L222.20,325.60 L225.90,325.20 L225.90,309.30 L240.50,309.30" stroke="#000" stroke-width="1.7" fill="none" stroke-linejoin="miter"/>
<path d="M45.30,443.70 L46.87,443.70 L46.87,443.54 L48.43,443.54 L48.43,443.39 L50.00,443.39 L50.00,443.23 L51.57,443.23 L51.57,443.08 L53.13,443.08 L53.13,442.92 L54.70,442.92 L54.70,442.77 L56.27,442.77 L56.27,442.61 L57.83,442.61 L57.83,442.46 L59.40,442.46 L59.40,442.30 L67.10,441.80 L74.80,441.50 L76.34,441.50 L76.34,441.36 L77.88,441.36 L77.88,441.22 L79.42,441.22 L79.42,441.08 L80.96,441.08 L80.96,440.94 L82.50,440.94 L82.50,440.80 L90.20,440.30 L91.80,440.30 L91.80,439.87 L93.40,439.87 L93.40,439.43 L95.00,439.43 L95.00,439.00 L96.67,439.00 L96.67,438.50 L98.35,438.50 L98.35,438.00 L100.03,438.00 L100.03,437.50 L101.70,437.50 L101.70,437.00 L103.40,437.00 L103.40,436.50 L105.10,436.50 L105.10,436.00 L106.80,436.00 L106.80,435.50 L108.50,435.50 L108.50,435.00 L110.17,435.00 L110.17,434.50 L111.85,434.50 L111.85,434.00 L113.53,434.00 L113.53,433.50 L115.20,433.50 L115.20,433.00 L117.20,433.00 L117.20,431.85 L119.20,431.85 L119.20,430.70 L120.57,430.70 L120.57,429.67 L121.93,429.67 L121.93,428.63 L123.30,428.63 L123.30,427.60 L124.97,427.60 L124.97,427.35 L126.65,427.35 L126.65,427.10 L128.32,427.10 L128.32,426.85 L130.00,426.85 L130.00,426.60 L138.10,426.60 L140.10,426.60 L140.10,425.75 L142.10,425.75 L142.10,424.90 L143.78,424.90 L143.78,424.12 L145.45,424.12 L145.45,423.35 L147.12,423.35 L147.12,422.57 L148.80,422.57 L148.80,421.80 L150.15,421.80 L150.15,421.00 L151.50,421.00 L151.50,420.20 L152.40,420.20 L152.40,418.40 L153.30,418.40 L153.30,416.60 L154.20,416.60 L154.20,414.80 L155.10,414.80 L155.10,413.23 L156.00,413.23 L156.00,411.67 L156.90,411.67 L156.90,410.10 L158.70,410.10 L158.70,409.13 L160.50,409.13 L160.50,408.17 L162.30,408.17 L162.30,407.20 L172.60,407.00 L172.60,404.90 L174.18,404.90 L174.18,404.02 L175.76,404.02 L175.76,403.14 L177.34,403.14 L177.34,402.26 L178.92,402.26 L178.92,401.38 L180.50,401.38 L180.50,400.50 L180.61,400.50 L180.61,398.86 L180.72,398.86 L180.72,397.23 L180.84,397.23 L180.84,395.59 L180.95,395.59 L180.95,393.95 L181.06,393.95 L181.06,392.31 L181.18,392.31 L181.18,390.67 L181.29,390.67 L181.29,389.04 L181.40,389.04 L181.40,387.40 L181.70,387.40 L181.70,385.78 L182.00,385.78 L182.00,384.17 L182.30,384.17 L182.30,382.55 L182.60,382.55 L182.60,380.93 L182.90,380.93 L182.90,379.32 L183.20,379.32 L183.20,377.70 L184.72,377.70 L184.72,377.48 L186.25,377.48 L186.25,377.25 L187.78,377.25 L187.78,377.02 L189.30,377.02 L189.30,376.80 L189.60,376.80 L189.60,375.37 L189.90,375.37 L189.90,373.93 L190.20,373.93 L190.20,372.50 L192.60,372.50 L192.60,366.60 L219.00,366.60 L219.00,313.50 L230.00,313.50" stroke="#d4143a" stroke-width="2" fill="none" stroke-dasharray="5.0,5.5" stroke-linecap="round" stroke-dashoffset="7.66"/>
<path d="M298.50,443.30 L300.11,443.30 L300.11,443.04 L301.73,443.04 L301.73,442.77 L303.34,442.77 L303.34,442.51 L304.95,442.51 L304.95,442.25 L306.56,442.25 L306.56,441.99 L308.17,441.99 L308.17,441.73 L309.79,441.73 L309.79,441.46 L311.40,441.46 L311.40,441.20 L312.94,441.20 L312.94,440.98 L314.48,440.98 L314.48,440.76 L316.02,440.76 L316.02,440.54 L317.56,440.54 L317.56,440.32 L319.10,440.32 L319.10,440.10 L320.64,440.10 L320.64,439.84 L322.18,439.84 L322.18,439.58 L323.72,439.58 L323.72,439.32 L325.26,439.32 L325.26,439.06 L326.80,439.06 L326.80,438.80 L328.34,438.80 L328.34,438.56 L329.88,438.56 L329.88,438.32 L331.42,438.32 L331.42,438.08 L332.96,438.08 L332.96,437.84 L334.50,437.84 L334.50,437.60 L336.04,437.60 L336.04,437.48 L337.58,437.48 L337.58,437.36 L339.12,437.36 L339.12,437.24 L340.66,437.24 L340.66,437.12 L342.20,437.12 L342.20,437.00 L343.72,437.00 L343.72,436.60 L345.24,436.60 L345.24,436.20 L346.76,436.20 L346.76,435.80 L348.28,435.80 L348.28,435.40 L349.80,435.40 L349.80,435.00 L351.34,435.00 L351.34,434.64 L352.88,434.64 L352.88,434.28 L354.42,434.28 L354.42,433.92 L355.96,433.92 L355.96,433.56 L357.50,433.56 L357.50,433.20 L359.04,433.20 L359.04,432.86 L360.58,432.86 L360.58,432.52 L362.12,432.52 L362.12,432.18 L363.66,432.18 L363.66,431.84 L365.20,431.84 L365.20,431.50 L366.80,431.50 L366.80,431.27 L368.40,431.27 L368.40,431.03 L370.00,431.03 L370.00,430.80 L371.48,430.80 L371.48,430.38 L372.96,430.38 L372.96,429.96 L374.44,429.96 L374.44,429.54 L375.92,429.54 L375.92,429.12 L377.40,429.12 L377.40,428.70 L378.88,428.70 L378.88,427.96 L380.36,427.96 L380.36,427.22 L381.84,427.22 L381.84,426.48 L383.32,426.48 L383.32,425.74 L384.80,425.74 L384.80,425.00 L386.28,425.00 L386.28,424.74 L387.76,424.74 L387.76,424.48 L389.24,424.48 L389.24,424.22 L390.72,424.22 L390.72,423.96 L392.20,423.96 L392.20,423.70 L393.68,423.70 L393.68,423.04 L395.16,423.04 L395.16,422.38 L396.64,422.38 L396.64,421.72 L398.12,421.72 L398.12,421.06 L399.60,421.06 L399.60,420.40 L401.08,420.40 L401.08,419.66 L402.56,419.66 L402.56,418.92 L404.04,418.92 L404.04,418.18 L405.52,418.18 L405.52,417.44 L407.00,417.44 L407.00,416.70 L408.85,416.70 L408.85,414.85 L410.70,414.85 L410.70,413.00 L412.18,413.00 L412.18,412.06 L413.66,412.06 L413.66,411.12 L415.14,411.12 L415.14,410.18 L416.62,410.18 L416.62,409.24 L418.10,409.24 L418.10,408.30 L419.60,408.30 L419.60,407.02 L421.10,407.02 L421.10,405.74 L422.60,405.74 L422.60,404.46 L424.10,404.46 L424.10,403.18 L425.60,403.18 L425.60,401.90 L427.08,401.90 L427.08,400.40 L428.56,400.40 L428.56,398.90 L430.04,398.90 L430.04,397.40 L431.52,397.40 L431.52,395.90 L433.00,395.90 L433.00,394.40 L434.83,394.40 L434.83,392.57 L436.67,392.57 L436.67,390.73 L438.50,390.73 L438.50,388.90 L439.45,388.90 L439.45,387.50 L440.40,387.50 L440.40,386.10 L442.23,386.10 L442.23,384.27 L444.07,384.27 L444.07,382.43 L445.90,382.43 L445.90,380.60 L447.30,380.60 L447.30,379.43 L448.70,379.43 L448.70,378.25 L450.10,378.25 L450.10,377.07 L451.50,377.07 L451.50,375.90 L453.25,375.90 L453.25,374.50 L455.00,374.50 L455.00,373.10 L456.30,373.10 L456.30,372.20 L457.60,372.20 L457.60,371.30 L459.37,371.30 L459.37,371.00 L461.13,371.00 L461.13,370.70 L462.90,370.70 L462.90,370.40 L464.20,370.40 L464.20,369.55 L465.50,369.55 L465.50,368.70 L466.85,368.70 L466.85,368.10 L468.20,368.10 L468.20,367.50 L469.95,367.50 L469.95,367.20 L471.70,367.20 L471.70,366.90 L472.10,366.90 L472.10,365.15 L472.50,365.15 L472.50,363.40 L472.80,363.40 L472.80,361.93 L473.10,361.93 L473.10,360.47 L473.40,360.47 L473.40,359.00 L475.15,359.00 L475.15,358.60 L476.90,358.60 L476.90,358.20 L477.05,358.20 L477.05,356.43 L477.20,356.43 L477.20,354.65 L477.35,354.65 L477.35,352.88 L477.50,352.88 L477.50,351.10 L479.20,350.80 L479.60,341.50 L479.69,341.50 L479.69,339.94 L479.78,339.94 L479.78,338.39 L479.87,338.39 L479.87,336.83 L479.96,336.83 L479.96,335.28 L480.04,335.28 L480.04,333.72 L480.13,333.72 L480.13,332.17 L480.22,332.17 L480.22,330.61 L480.31,330.61 L480.31,329.06 L480.40,329.06 L480.40,327.50 L482.00,327.50 L482.00,327.05 L483.60,327.05 L483.60,326.60 L483.90,303.40 L490.30,303.40" stroke="#000" stroke-width="1.7" fill="none" stroke-linejoin="miter"/>
<path d="M298.50,443.30 L300.11,443.30 L300.11,443.23 L301.73,443.23 L301.73,443.15 L303.34,443.15 L303.34,443.07 L304.95,443.07 L304.95,443.00 L306.56,443.00 L306.56,442.93 L308.17,442.93 L308.17,442.85 L309.79,442.85 L309.79,442.77 L311.40,442.77 L311.40,442.70 L326.80,442.40 L342.20,442.40 L349.80,441.90 L351.34,441.90 L351.34,441.76 L352.88,441.76 L352.88,441.62 L354.42,441.62 L354.42,441.48 L355.96,441.48 L355.96,441.34 L357.50,441.34 L357.50,441.20 L365.20,440.70 L376.00,440.10 L377.47,440.10 L377.47,439.58 L378.93,439.58 L378.93,439.07 L380.40,439.07 L380.40,438.55 L381.87,438.55 L381.87,438.03 L383.33,438.03 L383.33,437.52 L384.80,437.52 L384.80,437.00 L386.39,437.00 L386.39,436.87 L387.97,436.87 L387.97,436.74 L389.56,436.74 L389.56,436.61 L391.14,436.61 L391.14,436.49 L392.73,436.49 L392.73,436.36 L394.31,436.36 L394.31,436.23 L395.90,436.23 L395.90,436.10 L397.80,436.10 L397.80,434.80 L407.00,434.30 L408.40,434.30 L408.40,433.38 L409.80,433.38 L409.80,432.45 L411.20,432.45 L411.20,431.53 L412.60,431.53 L412.60,430.60 L414.43,430.60 L414.43,430.27 L416.27,430.27 L416.27,429.93 L418.10,429.93 L418.10,429.60 L436.70,429.60 L437.25,429.60 L437.25,427.85 L437.80,427.85 L437.80,426.10 L439.30,426.10 L439.30,425.90 L440.80,425.90 L440.80,425.70 L442.30,425.70 L442.30,425.50 L443.80,425.50 L443.80,425.30 L444.67,425.30 L444.67,423.87 L445.53,423.87 L445.53,422.43 L446.40,422.43 L446.40,421.00 L446.40,416.30 L462.20,416.30 L462.20,410.60 L500.50,410.60" stroke="#d4143a" stroke-width="2" fill="none" stroke-dasharray="5.0,5.5" stroke-linecap="round" stroke-dashoffset="5.13"/>
<line x1="51.90" y1="18.30" x2="65.50" y2="18.30" stroke="#000" stroke-width="1.7" fill="none" stroke-linejoin="miter"/>
<text x="70.90" y="21.20" font-size="6.9">CI</text>
<line x1="51.90" y1="26.40" x2="65.50" y2="26.40" stroke="#b03848" stroke-width="1.4" fill="none" stroke-dasharray="1.5,2.0"/>
<text x="70.90" y="29.30" font-size="6.9">95% Upper Limit</text>
<line x1="51.90" y1="34.50" x2="65.50" y2="34.50" stroke="#4848a8" stroke-width="1.4" fill="none" stroke-dasharray="1.5,2.0"/>
<text x="70.90" y="37.40" font-size="6.9">95% Lower Limit</text>
<line x1="302.40" y1="14.50" x2="316.00" y2="14.50" stroke="#000" stroke-width="1.7" fill="none" stroke-linejoin="miter"/>
<text x="321.40" y="17.40" font-size="6.6">Male</text>
<line x1="302.40" y1="22.90" x2="316.00" y2="22.90" stroke="#d4143a" stroke-width="2" fill="none" stroke-dasharray="6.3,3.7"/>
<text x="321.40" y="25.80" font-size="6.6">Female</text>
<line x1="51.50" y1="290.00" x2="65.10" y2="290.00" stroke="#000" stroke-width="1.7" fill="none" stroke-linejoin="miter"/>
<text x="70.50" y="292.90" font-size="6.6">White</text>
<line x1="51.50" y1="298.50" x2="65.10" y2="298.50" stroke="#d4143a" stroke-width="2" fill="none" stroke-dasharray="6.3,3.7"/>
<text x="70.50" y="301.40" font-size="6.6">Others</text>
<line x1="304.50" y1="294.00" x2="318.10" y2="294.00" stroke="#000" stroke-width="1.7" fill="none" stroke-linejoin="miter"/>
<text x="323.50" y="296.90" font-size="6.5">RT</text>
<line x1="304.50" y1="302.40" x2="318.10" y2="302.40" stroke="#d4143a" stroke-width="2" fill="none" stroke-dasharray="6.3,3.7"/>
<text x="323.50" y="305.30" font-size="6.5">No RT</text>
<text x="23.90" y="213.00" text-anchor="middle" font-size="6.7">At Risk:</text>
<text x="23.90" y="221.00" text-anchor="middle" font-size="6.7">Overall:</text>
<text x="45.90" y="221.00" text-anchor="middle" font-size="6.7">4329</text>
<text x="75.69" y="221.00" text-anchor="middle" font-size="6.7">4008</text>
<text x="105.47" y="221.00" text-anchor="middle" font-size="6.7">3673</text>
<text x="135.26" y="221.00" text-anchor="middle" font-size="6.7">2927</text>
<text x="165.04" y="221.00" text-anchor="middle" font-size="6.7">1412</text>
<text x="194.83" y="221.00" text-anchor="middle" font-size="6.7">487</text>
<text x="224.61" y="221.00" text-anchor="middle" font-size="6.7">30</text>
<text x="274.40" y="212.90" text-anchor="middle" font-size="6.7">At Risk:</text>
<text x="274.40" y="220.90" text-anchor="middle" font-size="6.7">Male:</text>
<text x="296.40" y="220.90" text-anchor="middle" font-size="6.7">2302</text>
<text x="326.70" y="220.90" text-anchor="middle" font-size="6.7">2098</text>
<text x="357.00" y="220.90" text-anchor="middle" font-size="6.7">1907</text>
<text x="387.30" y="220.90" text-anchor="middle" font-size="6.7">1494</text>
<text x="417.60" y="220.90" text-anchor="middle" font-size="6.7">708</text>
<text x="447.90" y="220.90" text-anchor="middle" font-size="6.7">242</text>
<text x="478.20" y="220.90" text-anchor="middle" font-size="6.7">14</text>
<text x="274.40" y="228.90" text-anchor="middle" font-size="6.7">Female:</text>
<text x="296.40" y="228.90" text-anchor="middle" font-size="6.7">2027</text>
<text x="326.70" y="228.90" text-anchor="middle" font-size="6.7">1910</text>
<text x="357.00" y="228.90" text-anchor="middle" font-size="6.7">1766</text>
<text x="387.30" y="228.90" text-anchor="middle" font-size="6.7">1433</text>
<text x="417.60" y="228.90" text-anchor="middle" font-size="6.7">704</text>
<text x="447.90" y="228.90" text-anchor="middle" font-size="6.7">245</text>
<text x="478.20" y="228.90" text-anchor="middle" font-size="6.7">16</text>
<text x="23.50" y="491.50" text-anchor="middle" font-size="6.7">At Risk:</text>
<text x="23.50" y="499.80" text-anchor="middle" font-size="6.7">White:</text>
<text x="45.50" y="499.80" text-anchor="middle" font-size="6.7">3540</text>
<text x="75.43" y="499.80" text-anchor="middle" font-size="6.7">3272</text>
<text x="105.36" y="499.80" text-anchor="middle" font-size="6.7">3030</text>
<text x="135.29" y="499.80" text-anchor="middle" font-size="6.7">2458</text>
<text x="165.21" y="499.80" text-anchor="middle" font-size="6.7">1230</text>
<text x="195.14" y="499.80" text-anchor="middle" font-size="6.7">429</text>
<text x="225.07" y="499.80" text-anchor="middle" font-size="6.7">27</text>
<text x="23.50" y="508.10" text-anchor="middle" font-size="6.7">Others:</text>
<text x="45.50" y="508.10" text-anchor="middle" font-size="6.7">789</text>
<text x="75.43" y="508.10" text-anchor="middle" font-size="6.7">736</text>
<text x="105.36" y="508.10" text-anchor="middle" font-size="6.7">643</text>
<text x="135.29" y="508.10" text-anchor="middle" font-size="6.7">469</text>
<text x="165.21" y="508.10" text-anchor="middle" font-size="6.7">182</text>
<text x="195.14" y="508.10" text-anchor="middle" font-size="6.7">58</text>
<text x="225.07" y="508.10" text-anchor="middle" font-size="6.7">3</text>
<text x="276.50" y="490.20" text-anchor="middle" font-size="6.7">At Risk:</text>
<text x="276.50" y="498.20" text-anchor="middle" font-size="6.7">RT:</text>
<text x="298.50" y="498.20" text-anchor="middle" font-size="6.7">2712</text>
<text x="329.17" y="498.20" text-anchor="middle" font-size="6.7">2481</text>
<text x="359.84" y="498.20" text-anchor="middle" font-size="6.7">2299</text>
<text x="390.51" y="498.20" text-anchor="middle" font-size="6.7">1888</text>
<text x="421.19" y="498.20" text-anchor="middle" font-size="6.7">1057</text>
<text x="451.86" y="498.20" text-anchor="middle" font-size="6.7">345</text>
<text x="482.53" y="498.20" text-anchor="middle" font-size="6.7">10</text>
<text x="276.50" y="506.20" text-anchor="middle" font-size="6.7">No RT:</text>
<text x="298.50" y="506.20" text-anchor="middle" font-size="6.7">1103</text>
<text x="329.17" y="506.20" text-anchor="middle" font-size="6.7">1054</text>
<text x="359.84" y="506.20" text-anchor="middle" font-size="6.7">967</text>
<text x="390.51" y="506.20" text-anchor="middle" font-size="6.7">730</text>
<text x="421.19" y="506.20" text-anchor="middle" font-size="6.7">207</text>
<text x="451.86" y="506.20" text-anchor="middle" font-size="6.7">93</text>
<text x="482.53" y="506.20" text-anchor="middle" font-size="6.7">16</text>
</svg>
</body></html>
